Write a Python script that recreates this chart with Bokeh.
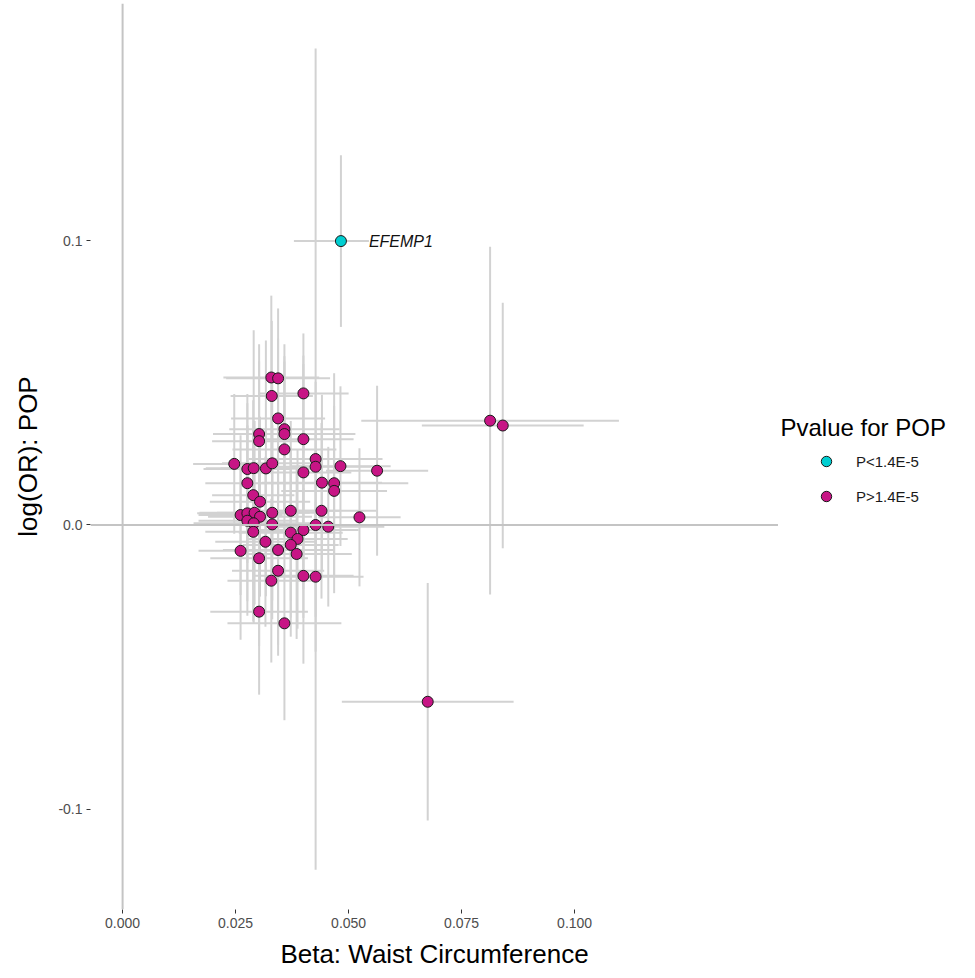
from bokeh.plotting import figure
from bokeh.layouts import row
from bokeh.models import (Range1d, Span, Label, Legend, LegendItem, FixedTicker,
                          ColumnDataSource)
from bokeh.embed import file_html
from bokeh.resources import INLINE

# Lead variants: effect on waist circumference vs log(OR) for POP, with 95% CI half-widths
beta_wc = [0.0483, 0.0813, 0.0841, 0.0675,
           0.0329, 0.0344, 0.0330, 0.0400, 0.0344, 0.0358, 0.0358, 0.0302, 0.0302, 0.0400,
           0.0358, 0.0247, 0.0276, 0.0290, 0.0317, 0.0331, 0.0427, 0.0427, 0.0400, 0.0482,
           0.0563, 0.0276, 0.0441, 0.0468, 0.0468, 0.0289, 0.0304, 0.0261, 0.0276, 0.0292,
           0.0304, 0.0276, 0.0290, 0.0289, 0.0331, 0.0331, 0.0372, 0.0440, 0.0524, 0.0316,
           0.0261, 0.0344, 0.0302, 0.0344, 0.0329, 0.0302, 0.0358, 0.0427, 0.0455, 0.0400,
           0.0372, 0.0387, 0.0372, 0.0385, 0.0400, 0.0427]
ci_wc = [0.0104, 0.0285, 0.0179, 0.0190,
         0.0106, 0.0115, 0.0091, 0.0100, 0.0104, 0.0122, 0.0157, 0.0102, 0.0104, 0.0111,
         0.0115, 0.0091, 0.0097, 0.0106, 0.0100, 0.0111, 0.0148, 0.0122, 0.0106, 0.0111,
         0.0113, 0.0093, 0.0133, 0.0164, 0.0117, 0.0091, 0.0111, 0.0093, 0.0111, 0.0122,
         0.0115, 0.0108, 0.0133, 0.0106, 0.0122, 0.0128, 0.0111, 0.0122, 0.0091, 0.0111,
         0.0093, 0.0122, 0.0108, 0.0102, 0.0097, 0.0108, 0.0126, 0.0133, 0.0124, 0.0122,
         0.0115, 0.0111, 0.0106, 0.0122, 0.0111, 0.0106]
logor_pop = [0.0999, 0.0367, 0.0350, -0.0622,
             0.0519, 0.0516, 0.0454, 0.0463, 0.0375, 0.0337, 0.0320, 0.0320, 0.0295, 0.0302,
             0.0266, 0.0215, 0.0197, 0.0200, 0.0199, 0.0217, 0.0232, 0.0205, 0.0185, 0.0207,
             0.0191, 0.0147, 0.0149, 0.0147, 0.0120, 0.0105, 0.0082, 0.0035, 0.0041, 0.0043,
             0.0029, 0.0015, 0.0006, -0.0024, 0.0043, 0.0002, 0.0050, 0.0050, 0.0027, -0.0059,
             -0.0091, -0.0088, -0.0117, -0.0161, -0.0196, -0.0305, -0.0346, 0.0000, -0.0006, -0.0018,
             -0.0027, -0.0049, -0.0070, -0.0102, -0.0179, -0.0182]
ci_pop = [0.0302, 0.0612, 0.0432, 0.0418,
          0.0288, 0.0246, 0.0264, 0.0211, 0.0281, 0.0299, 0.0274, 0.0316, 0.0281, 0.0264,
          0.0309, 0.0246, 0.0264, 0.0485, 0.0450, 0.0316, 0.1445, 0.0299, 0.0411, 0.0281,
          0.0299, 0.0281, 0.0309, 0.0387, 0.0299, 0.0334, 0.0299, 0.0281, 0.0309, 0.0323,
          0.0281, 0.0334, 0.0351, 0.0316, 0.0309, 0.0334, 0.0316, 0.0309, 0.0243, 0.0299,
          0.0313, 0.0334, 0.0309, 0.0299, 0.0288, 0.0292, 0.0341, 0.0323, 0.0281, 0.0309,
          0.0299, 0.0316, 0.0323, 0.0299, 0.0309, 0.0264]
# POP association below the 1.4E-5 threshold
significant = [True] + [False] * (len(beta_wc) - 1)
gene_labels = ["EFEMP1"] + [""] * (len(beta_wc) - 1)

legend_labels = ["P<1.4E-5", "P>1.4E-5"]
legend_title = "Pvalue for POP"
x_ticks = [0.0, 0.025, 0.05, 0.075, 0.1]
x_tick_labels = ["0.000", "0.025", "0.050", "0.075", "0.100"]
y_ticks = [-0.1, 0.0, 0.1]
y_tick_labels = ["-0.1", "0.0", "0.1"]

FONT = "Liberation Sans"
SIG_COLOR = "#00CED1"
NS_COLOR = "#C71585"
BAR_COLOR = "#d2d2d2"
POINT_LINE = "#1a1a1a"

src = ColumnDataSource(dict(
    x=beta_wc, y=logor_pop,
    x0=[b - c for b, c in zip(beta_wc, ci_wc)], x1=[b + c for b, c in zip(beta_wc, ci_wc)],
    y0=[v - c for v, c in zip(logor_pop, ci_pop)], y1=[v + c for v, c in zip(logor_pop, ci_pop)],
))
sig_src = ColumnDataSource(dict(
    x=[b for b, s in zip(beta_wc, significant) if s],
    y=[v for v, s in zip(logor_pop, significant) if s]))
ns_src = ColumnDataSource(dict(
    x=[b for b, s in zip(beta_wc, significant) if not s],
    y=[v for v, s in zip(logor_pop, significant) if not s]))

p = figure(width=778, height=978, output_backend="svg", toolbar_location=None,
           x_range=Range1d(-0.0071, 0.1451), y_range=Range1d(-0.1353, 0.1835),
           min_border_left=90, min_border_right=0, min_border_top=3, min_border_bottom=69,
           background_fill_color="white", border_fill_color="white")
p.outline_line_color = None
p.grid.visible = False

# reference lines through the origin
p.add_layout(Span(location=0, dimension="height", line_color="#c4c4c4", line_width=2))
p.add_layout(Span(location=0, dimension="width", line_color="#c4c4c4", line_width=2))

# confidence intervals
p.segment(x0="x0", y0="y", x1="x1", y1="y", source=src, line_color=BAR_COLOR, line_width=2)
p.segment(x0="x", y0="y0", x1="x", y1="y1", source=src, line_color=BAR_COLOR, line_width=2)

p.scatter("x", "y", source=ns_src, size=11, fill_color=NS_COLOR,
          line_color=POINT_LINE, line_width=1)
p.scatter("x", "y", source=sig_src, size=11, fill_color=SIG_COLOR,
          line_color=POINT_LINE, line_width=1)

for gx, gy, g in zip(beta_wc, logor_pop, gene_labels):
    if g:
        p.add_layout(Label(x=gx, y=gy, x_offset=28, text=g, text_font=FONT,
                           text_font_style="italic", text_font_size="16px",
                           text_baseline="middle", text_align="left", text_color="#111111",
                           background_fill_color="white"))

for ax in (p.xaxis[0], p.yaxis[0]):
    ax.axis_line_color = None
    ax.major_tick_in = 0
    ax.major_tick_out = 4
    ax.major_tick_line_color = "#333333"
    ax.minor_tick_line_color = None
    ax.major_label_text_font = FONT
    ax.major_label_text_font_size = "14px"
    ax.major_label_text_color = "#4d4d4d"
    ax.major_label_standoff = 4
    ax.axis_label_text_font = FONT
    ax.axis_label_text_font_size = "26px"
    ax.axis_label_text_font_style = "normal"
    ax.axis_label_text_color = "black"

p.xaxis.ticker = FixedTicker(ticks=x_ticks)
p.xaxis.major_label_overrides = dict(zip(x_ticks, x_tick_labels))
p.yaxis.ticker = FixedTicker(ticks=y_ticks)
p.yaxis.major_label_overrides = dict(zip(y_ticks, y_tick_labels))
p.xaxis.axis_label = "Beta: Waist Circumference"
p.yaxis.axis_label = "log(OR): POP"
p.xaxis.axis_label_standoff = 8
p.yaxis.axis_label_standoff = 12

# side panel holding the colour key; its ranges lie away from the data so the
# key renderers only feed the legend swatches
key = figure(width=197, height=978, output_backend="svg", toolbar_location=None,
             x_range=Range1d(1, 2), y_range=Range1d(1, 2),
             min_border_left=0, min_border_right=0, min_border_top=3, min_border_bottom=69,
             x_axis_type=None, y_axis_type=None,
             background_fill_color="white", border_fill_color="white")
key.outline_line_color = None
key.grid.visible = False
k_sig = key.scatter("x", "y", source=sig_src, size=11, fill_color=SIG_COLOR,
                    line_color=POINT_LINE, line_width=1)
k_ns = key.scatter("x", "y", source=ns_src, size=11, fill_color=NS_COLOR,
                   line_color=POINT_LINE, line_width=1)
key.add_layout(Label(x=2, y=482, x_units="screen", y_units="screen", text=legend_title,
                     text_font=FONT, text_font_size="24px", text_baseline="middle",
                     text_align="left", text_color="black"))
legend = Legend(items=[LegendItem(label=legend_labels[0], renderers=[k_sig]),
                       LegendItem(label=legend_labels[1], renderers=[k_ns])],
                location=(35, 400),
                label_text_font=FONT, label_text_font_size="15px", label_text_color="#1a1a1a",
                glyph_width=26, glyph_height=26, label_standoff=17, spacing=9,
                padding=2, margin=0, border_line_color=None, background_fill_alpha=0)
key.add_layout(legend)

layout = row(p, key, spacing=0)
open("out.html", "w").write(file_html(layout, INLINE))
